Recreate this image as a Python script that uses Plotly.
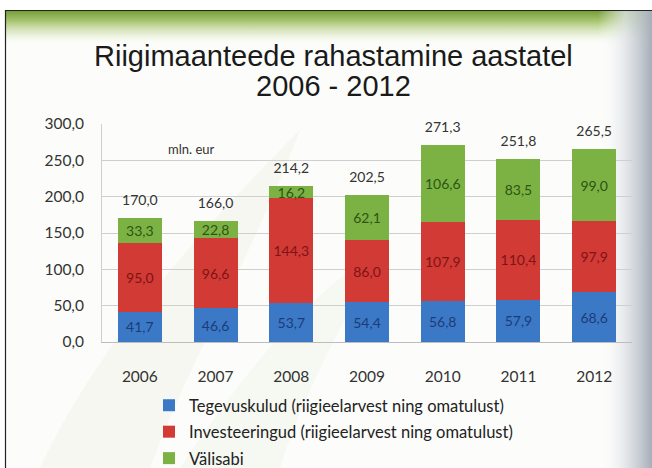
import base64
import plotly.graph_objects as go

years = ["2006", "2007", "2008", "2009", "2010", "2011", "2012"]
tegevuskulud = [41.7, 46.6, 53.7, 54.4, 56.8, 57.9, 68.6]
investeeringud = [95.0, 96.6, 144.3, 86.0, 107.9, 110.4, 97.9]
valisabi = [33.3, 22.8, 16.2, 62.1, 106.6, 83.5, 99.0]
totals = [round(a + b + c, 1) for a, b, c in zip(tegevuskulud, investeeringud, valisabi)]

series_names = [
    "Tegevuskulud (riigieelarvest ning omatulust)",
    "Investeeringud (riigieelarvest ning omatulust)",
    "Välisabi",
]
title_lines = ["Riigimaanteede rahastamine aastatel", "2006 - 2012"]
unit_text = "mln. eur"

W, H = 652, 468
L, R, T, B = 102, 20, 124, 126
pw, ph = W - L - R, H - T - B


def px_x(px):
    return (px - L) / pw


def px_y(py):
    return (H - B - py) / ph


svg = f'''<svg xmlns="http://www.w3.org/2000/svg" width="{W}" height="{H}" viewBox="0 0 {W} {H}" preserveAspectRatio="none">
<defs>
<linearGradient id="top" x1="0" y1="0" x2="0" y2="1">
<stop offset="0" stop-color="#6f9a33" stop-opacity="1"/>
<stop offset="0.3" stop-color="#9dbd5e" stop-opacity="0.9"/>
<stop offset="0.7" stop-color="#d6e4bb" stop-opacity="0.5"/>
<stop offset="1" stop-color="#ffffff" stop-opacity="0"/>
</linearGradient>
<linearGradient id="right" x1="0" y1="0" x2="1" y2="0">
<stop offset="0" stop-color="#ffffff" stop-opacity="0"/>
<stop offset="0.5" stop-color="#dfe3e7" stop-opacity="0.8"/>
<stop offset="1" stop-color="#a6aeb8" stop-opacity="1"/>
</linearGradient>
</defs>
<rect x="0" y="0" width="{W}" height="{H}" fill="#ffffff"/>
<rect x="5" y="10" width="{W-5}" height="{H-10}" fill="#fcfdfa"/>
<path d="M40 468 C 90 360, 180 250, 300 130 C 250 260, 190 360, 150 468 Z" fill="#eef2e8" opacity="0.55"/>
<path d="M180 468 C 240 380, 300 300, 380 250 C 340 330, 300 400, 280 468 Z" fill="#f0f3ea" opacity="0.5"/>
<rect x="5" y="10" width="{W-5}" height="36" fill="url(#top)"/>
<rect x="598" y="10" width="{W-598}" height="{H-10}" fill="url(#right)"/>
<line x1="5" y1="10.5" x2="{W}" y2="10.5" stroke="#222" stroke-width="1.2"/>
<line x1="5.5" y1="10" x2="5.5" y2="{H}" stroke="#222" stroke-width="1.2"/>
</svg>'''
bg_uri = "data:image/svg+xml;base64," + base64.b64encode(svg.encode("utf-8")).decode("ascii")

font_main = "Lato, 'Open Sans', sans-serif"

colors = ["#3b79c6", "#d23a36", "#7cb244"]
text_colors = ["#1c3c78", "#7e1414", "#2d5412"]
data = [tegevuskulud, investeeringud, valisabi]

fig = go.Figure()
for name, vals, c, tc in zip(series_names, data, colors, text_colors):
    fig.add_trace(go.Bar(
        x=years, y=vals, name=name, legendgroup=name,
        marker=dict(color=c, line=dict(width=0)),
        texttemplate="%{y:.1f}", textposition="inside", insidetextanchor="middle",
        textangle=0, constraintext="none",
        textfont=dict(family=font_main, size=14, color=tc),
        hoverinfo="skip",
    ))

fig.add_trace(go.Scatter(
    x=years, y=totals, mode="markers+text", texttemplate="%{y:.1f}",
    marker=dict(size=14, opacity=0),
    textposition="top center", showlegend=False, cliponaxis=False,
    textfont=dict(family=font_main, size=14, color="#333333"),
    hoverinfo="skip",
))

title_font = dict(family="'Liberation Sans', Arial, sans-serif", size=29, color="#1a1a1a")
annotations = [
    dict(text=title_lines[0], xref="paper", yref="paper",
         x=px_x(333), y=px_y(56), xanchor="center", yanchor="middle",
         showarrow=False, font=title_font),
    dict(text=title_lines[1], xref="paper", yref="paper",
         x=px_x(333), y=px_y(86), xanchor="center", yanchor="middle",
         showarrow=False, font=title_font),
    dict(text=unit_text, xref="paper", yref="paper",
         x=px_x(191), y=px_y(149), xanchor="center", yanchor="middle",
         showarrow=False, font=dict(family=font_main, size=13, color="#333333")),
]

fig.update_layout(
    width=W, height=H,
    margin=dict(l=L, r=R, t=T, b=B, autoexpand=False),
    paper_bgcolor="white", plot_bgcolor="rgba(0,0,0,0)",
    separators=", ",
    barmode="stack", bargap=0.42,
    showlegend=True,
    legend=dict(
        x=px_x(149), y=px_y(388), xanchor="left", yanchor="top",
        orientation="v", traceorder="grouped", tracegroupgap=2,
        font=dict(family=font_main, size=16.5, color="#222222"),
        bgcolor="rgba(0,0,0,0)", itemwidth=30,
    ),
    images=[dict(
        source=bg_uri, xref="paper", yref="paper",
        x=-L / pw, y=1 + T / ph, sizex=W / pw, sizey=H / ph,
        xanchor="left", yanchor="top", sizing="stretch", layer="below",
    )],
    annotations=annotations,
)

fig.update_yaxes(
    range=[0, 300], dtick=50, tickformat=".1f",
    showgrid=True, gridcolor="#cfcfcf", gridwidth=1,
    showline=True, linecolor="#cfcfcf", linewidth=1,
    zeroline=False, ticks="", ticklabelstandoff=14,
    tickfont=dict(family=font_main, size=15.5, color="#333333"),
)
fig.update_xaxes(
    showgrid=False, showline=True, linecolor="#bdbdbd", linewidth=1,
    ticks="", ticklabelstandoff=20,
    tickfont=dict(family=font_main, size=15.5, color="#333333"),
)

fig.write_html("out.html", config={"displayModeBar": False},
               post_script="document.body.style.margin='0px';")
